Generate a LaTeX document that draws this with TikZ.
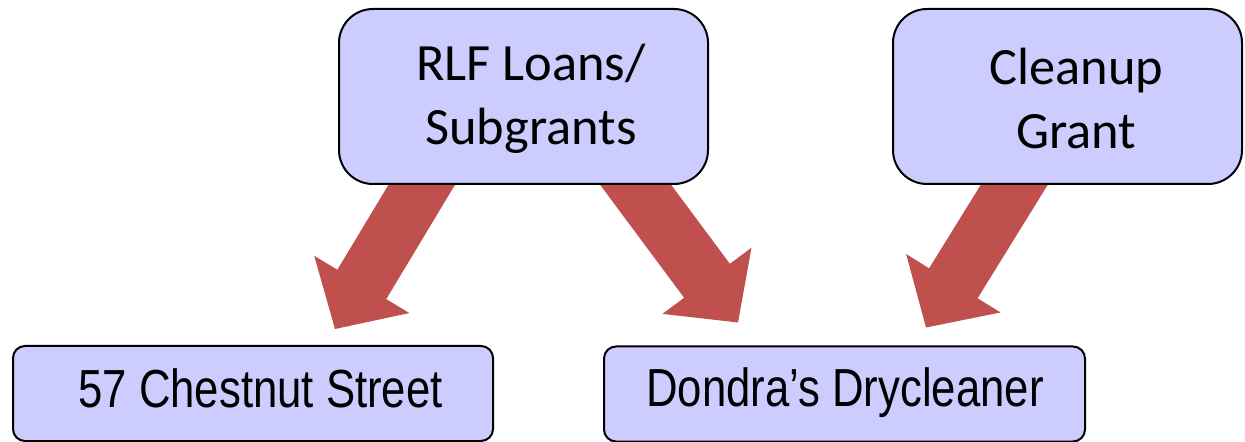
\documentclass[tikz,border=0pt]{standalone}
\usepackage{fontspec}
\setmainfont{Carlito}
\newfontfamily\narrowsans[FakeStretch=0.815]{Liberation Sans}
\usetikzlibrary{calc,backgrounds}
\definecolor{boxfill}{HTML}{CCCCFF}
\definecolor{arrowred}{HTML}{C0504D}

\tikzset{
  box/.style={draw=black, line width=1pt, fill=boxfill, rectangle, inner sep=0pt},
  topbox/.style={box, rounded corners=17pt, minimum height=87.5pt},
  lowbox/.style={box, rounded corners=6pt, minimum height=47.5pt},
  toptext/.style={font=\fontsize{26.2pt}{32pt}\selectfont, align=center, inner sep=0pt},
  lowtext/.style={font=\narrowsans\fontsize{26.8pt}{30pt}\selectfont, inner sep=0pt, anchor=base},
  blockfill/.style={fill=arrowred},
}

% block arrow from #1 (tail centre) to #2 (tip): shaft 28.5pt wide,
% head 55.5pt wide and 26pt long
\newcommand\blockarrow[2]{%
  \coordinate (ba-s) at #1;
  \coordinate (ba-t) at #2;
  \coordinate (ba-s0) at ($(ba-s)!-20pt!(ba-t)$);
  \coordinate (ba-b) at ($(ba-t)!26pt!(ba-s)$);
  \fill[blockfill]
    ($(ba-s0)!14.25pt!90:(ba-t)$) --
    ($(ba-b)!14.25pt!90:(ba-t)$) --
    ($(ba-b)!27.75pt!90:(ba-t)$) --
    (ba-t) --
    ($(ba-b)!27.75pt!-90:(ba-t)$) --
    ($(ba-b)!14.25pt!-90:(ba-t)$) --
    ($(ba-s0)!14.25pt!-90:(ba-t)$) -- cycle;%
}

\begin{document}
\begin{tikzpicture}[x=0.5pt, y=-0.5pt]
  \useasboundingbox (0,0) rectangle (1245,442);

  % funding sources
  \node[topbox, minimum width=184.5pt] (rlf) at (523.5,96.5) {};
  \node[topbox, minimum width=174.5pt] (clean) at (1067.5,96.5) {};
  \node[toptext] (rlf-text) at ($(rlf.center)+(7.5,2)$) {RLF Loans/\\Subgrants};
  \node[toptext] (clean-text) at ($(clean.center)+(9,2)$) {Cleanup\\Grant};

  % sites
  \node[lowbox, minimum width=240pt] (chest) at (253,393.5) {};
  \node[lowbox, minimum width=240.5pt] (dondra) at (844.5,394) {};
  \node[lowtext] (chest-text) at ($(chest.center)+(7.5,14)$) {57 Chestnut Street};
  \node[lowtext] (dondra-text) at ($(dondra.center)+(0.5,13)$) {Dondra’s Drycleaner};

  % funding flows
  \begin{scope}[on background layer]
    \blockarrow{($(rlf.south)+(-102.5,1)$)}{($(chest.north)+(82,-16)$)}
    \blockarrow{($(rlf.south)+(113,1)$)}{($(dondra.north)+(-106.5,-23)$)}
    \blockarrow{($(clean.south)+(-54,1)$)}{($(dondra.north)+(81.5,-18)$)}
  \end{scope}
\end{tikzpicture}
\end{document}
